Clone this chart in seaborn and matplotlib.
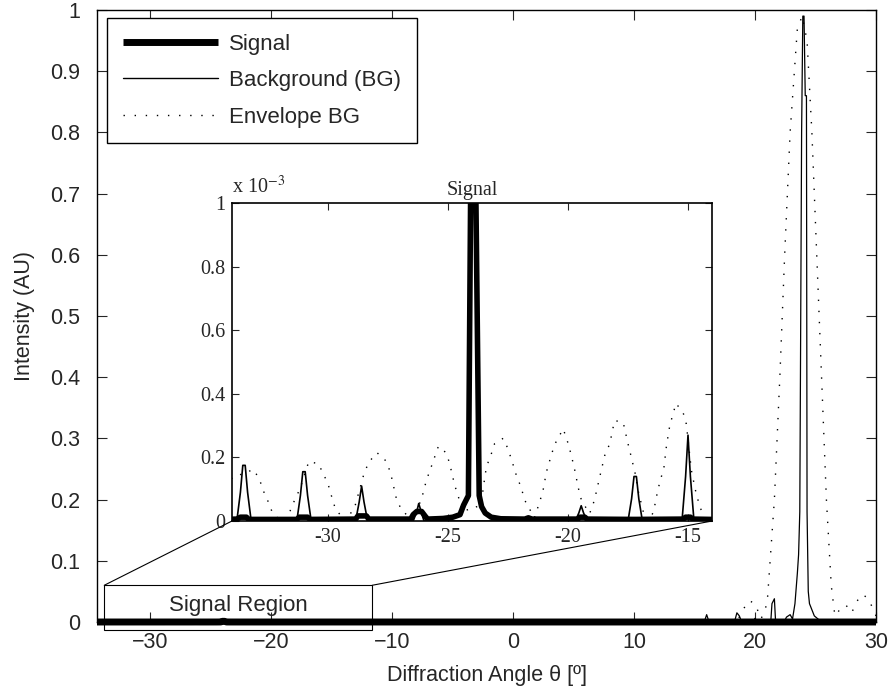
import matplotlib
matplotlib.use("Agg")
import matplotlib.pyplot as plt
import seaborn as sns
from matplotlib.patches import Rectangle, ConnectionPatch
from matplotlib.lines import Line2D

# ---- data (angle in degrees, intensity in AU) ----
signal_angle = [-34.4, -33.8, -33.65, -33.4, -33.3, -31.3, -31.2, -30.85, -30.75,
                -28.85, -28.75, -28.4, -28.3, -26.55, -26.45, -26.3, -26.1, -25.95,
                -25.85, -25.2, -24.8, -24.5, -24.35, -24.15, -24.05, -23.95, -23.85, -23.7,
                -23.6, -23.45, -23.2, -22.8, -21.8, -21.65, -21.5, -19.6, -19.5,
                -19.3, -19.2, -17.3, -17.15, -15.2, -15.1, -14.9, -14.8, -14.0,
                -10.0, 0.0, 10.0, 20.0, 24.0, 30.0]
signal_val = [0.005e-3, 0.006e-3, 0.012e-3, 0.012e-3, 0.005e-3, 0.005e-3, 0.012e-3, 0.012e-3, 0.005e-3,
              0.006e-3, 0.016e-3, 0.016e-3, 0.006e-3, 0.006e-3, 0.02e-3, 0.03e-3, 0.03e-3, 0.015e-3,
              0.006e-3, 0.008e-3, 0.012e-3, 0.02e-3, 0.05e-3, 0.08e-3, 1.1e-3, 1.1e-3, 1.1e-3, 0.08e-3,
              0.045e-3, 0.025e-3, 0.012e-3, 0.007e-3, 0.006e-3, 0.01e-3, 0.006e-3, 0.006e-3, 0.012e-3,
              0.012e-3, 0.006e-3, 0.005e-3, 0.005e-3, 0.006e-3, 0.012e-3, 0.012e-3, 0.006e-3, 0.005e-3,
              0.004e-3, 0.002e-3, 0.002e-3, 0.003e-3, 0.003e-3, 0.002e-3]

bg_angle = [-34.4, -33.8, -33.65, -33.55, -33.45, -33.35, -33.2,
            -31.3, -31.15, -31.05, -30.95, -30.85, -30.7,
            -28.85, -28.7, -28.6, -28.5, -28.35,
            -26.45, -26.3, -26.22, -26.12, -26.0,
            -19.7, -19.55, -19.45, -19.35, -19.2,
            -17.5, -17.35, -17.25, -17.15, -17.05, -16.9,
            -15.25, -15.1, -15.0, -14.9, -14.75,
            15.8, 16.0, 16.2, 18.3, 18.5, 18.7, 18.9, 19.8, 20.0, 20.2,
            21.3, 21.4, 21.6, 21.7, 22.4, 22.6, 22.9, 23.1, 23.3, 23.5, 23.6, 23.7,
            23.85, 23.95, 24.05, 24.15, 24.25, 24.3, 24.4, 24.5, 24.7, 24.9, 25.2, 25.5, 30.0]
bg_val = [0.0, 0.0, 0.09e-3, 0.175e-3, 0.175e-3, 0.09e-3, 0.0,
          0.0, 0.08e-3, 0.155e-3, 0.155e-3, 0.08e-3, 0.0,
          0.0, 0.06e-3, 0.11e-3, 0.06e-3, 0.0,
          0.0, 0.03e-3, 0.055e-3, 0.03e-3, 0.0,
          0.0, 0.025e-3, 0.048e-3, 0.025e-3, 0.0,
          0.0, 0.07e-3, 0.14e-3, 0.14e-3, 0.07e-3, 0.0,
          0.0, 0.14e-3, 0.27e-3, 0.14e-3, 0.0,
          0.0, 0.012, 0.0, 0.0, 0.015, 0.01, 0.0, 0.0, 0.006, 0.0,
          0.0, 0.03, 0.038, 0.0, 0.0, 0.008, 0.012, 0.005, 0.03, 0.08, 0.11, 0.18,
          0.8, 0.99, 0.99, 0.86, 0.86, 0.18, 0.05, 0.03, 0.02, 0.01, 0.005, 0.0, 0.0]

env_angle = [-34.4, -33.75, -33.1, -32.85, -32.7, -32.5, -32.3, -31.95, -31.64, -31.46,
             -31.25, -31.1, -30.8, -30.4, -30.2, -30.0, -29.86, -29.7, -29.3, -28.9,
             -28.5, -28.3, -27.96, -27.6, -27.4, -27.3, -27.15, -26.97, -26.5, -26.1,
             -25.9, -25.7, -25.4, -25.07, -24.93, -24.72, -24.58, -24.4, -23.6, -23.54,
             -23.4, -23.2, -23.06, -22.7, -22.5, -22.3, -22.15, -21.96, -21.8, -21.4,
             -21.18, -21.04, -20.9, -20.7, -20.56, -20.2, -20.0, -19.86, -19.7, -19.58,
             -19.44, -19.1, -18.9, -18.68, -18.47, -18.26, -18.06, -17.7, -17.5, -17.36,
             -17.2, -17.08, -16.86, -16.65, -16.44, -16.25, -16.0, -15.9, -15.76, -15.5,
             -15.2, -15.07, -14.86, -14.7, -14.6, -14.45, -14.3,
             18.5, 19.0, 19.5, 20.0, 20.5, 21.0, 21.6, 22.05, 22.45, 22.9, 23.5, 23.9,
             24.3, 24.7, 25.1, 25.5, 25.9, 26.3, 26.6, 27.0, 27.5, 28.0, 28.3, 28.8,
             29.3, 29.8, 30.0]
env_val = [0.12e-3, 0.143e-3, 0.162e-3, 0.13e-3, 0.096e-3, 0.062e-3, 0.023e-3, 0.0, 0.02e-3, 0.054e-3,
           0.088e-3, 0.117e-3, 0.187e-3, 0.18e-3, 0.149e-3, 0.117e-3, 0.08e-3, 0.04e-3, 0.0, 0.04e-3,
           0.149e-3, 0.185e-3, 0.215e-3, 0.19e-3, 0.154e-3, 0.12e-3, 0.07e-3, 0.04e-3, 0.0, 0.07e-3,
           0.128e-3, 0.17e-3, 0.235e-3, 0.214e-3, 0.18e-3, 0.112e-3, 0.08e-3, 0.03e-3, 0.05e-3, 0.1e-3,
           0.17e-3, 0.21e-3, 0.243e-3, 0.26e-3, 0.227e-3, 0.18e-3, 0.143e-3, 0.107e-3, 0.065e-3, 0.01e-3,
           0.06e-3, 0.096e-3, 0.154e-3, 0.206e-3, 0.24e-3, 0.29e-3, 0.245e-3, 0.206e-3, 0.154e-3, 0.107e-3,
           0.065e-3, 0.023e-3, 0.065e-3, 0.138e-3, 0.206e-3, 0.243e-3, 0.316e-3, 0.31e-3, 0.243e-3, 0.2e-3,
           0.149e-3, 0.096e-3, 0.028e-3, 0.0, 0.028e-3, 0.1e-3, 0.17e-3, 0.235e-3, 0.3e-3, 0.37e-3,
           0.34e-3, 0.305e-3, 0.16e-3, 0.1e-3, 0.07e-3, 0.034e-3, 0.0,
           0.0, 0.02, 0.035, 0.03, 0.005, 0.03, 0.2, 0.4, 0.6, 0.8, 0.97, 0.99,
           0.95, 0.8, 0.6, 0.4, 0.2, 0.06, 0.01, 0.02, 0.028, 0.015, 0.03, 0.045,
           0.04, 0.02, 0.01]

main_yticks = [0, 0.1, 0.2, 0.3, 0.4, 0.5, 0.6, 0.7, 0.8, 0.9, 1]
main_ytick_labels = ["0", "0.1", "0.2", "0.3", "0.4", "0.5", "0.6", "0.7", "0.8", "0.9", "1"]
main_xticks = [-30, -20, -10, 0, 10, 20, 30]
inset_xticks = [-30, -25, -20, -15]
inset_xtick_labels = ["-30", "-25", "-20", "-15"]
inset_yticks = [0, 0.2, 0.4, 0.6, 0.8, 1]
inset_ytick_labels = ["0", "0.2", "0.4", "0.6", "0.8", "1"]

sns.set_style("ticks")
plt.rcParams["font.family"] = ["Liberation Sans", "DejaVu Sans"]
plt.rcParams["mathtext.fontset"] = "stix"
plt.rcParams["xtick.direction"] = "in"
plt.rcParams["ytick.direction"] = "in"

fig = plt.figure(figsize=(8.93, 6.93), dpi=100)
ax = fig.add_axes([97 / 893, 1 - 622 / 693, 779 / 893, 612 / 693])

sns.lineplot(x=env_angle, y=env_val, ax=ax, color="black", linewidth=1.0,
             linestyle=(0, (1, 7)), estimator=None, sort=False)
sns.lineplot(x=bg_angle, y=bg_val, ax=ax, color="black", linewidth=0.9,
             estimator=None, sort=False)
sns.lineplot(x=signal_angle, y=signal_val, ax=ax, color="black", linewidth=5,
             estimator=None, sort=False, clip_on=False, solid_capstyle="butt")

ax.set_xlim(-34.4, 30)
ax.set_ylim(0, 1)
ax.set_xticks(main_xticks)
ax.set_yticks(main_yticks)
ax.set_yticklabels(main_ytick_labels)
ax.tick_params(labelsize=15.5, length=7, width=0.8, top=True, right=True)
ax.tick_params(axis="y", pad=12)
ax.tick_params(axis="x", pad=7)
for s in ax.spines.values():
    s.set_linewidth(1.0)
    s.set_color("black")
ax.set_xlabel("Diffraction Angle θ [º]", fontsize=15.5, labelpad=9)
ax.set_ylabel("Intensity (AU)", fontsize=15.5, labelpad=11)

handles = [Line2D([], [], color="black", lw=5, solid_capstyle="butt"),
           Line2D([], [], color="black", lw=1),
           Line2D([], [], color="black", lw=1, linestyle=(0, (1, 7)))]
leg = ax.legend(handles, ["Signal", "Background (BG)", "Envelope BG"],
                loc="upper left", bbox_to_anchor=(10 / 779, (622 - 18) / 612),
                borderaxespad=0, fontsize=16,
                handlelength=4.3, handletextpad=0.5, labelspacing=0.7,
                borderpad=0.7, fancybox=False, framealpha=1, edgecolor="black")
leg.get_frame().set_linewidth(1.0)

# signal region box
box = Rectangle((-33.8, -0.013), 22.15, 0.073, fill=False, edgecolor="black",
                linewidth=0.8, clip_on=False)
ax.add_patch(box)
ax.text(-22.7, 0.027, "Signal Region", fontsize=16, ha="center", va="center")

# inset
axin = fig.add_axes([232 / 893, 1 - 521 / 693, 480 / 893, 318 / 693])
sc = 1e3
sns.lineplot(x=env_angle, y=[v * sc for v in env_val], ax=axin, color="black",
             linewidth=1.0, linestyle=(0, (1, 6)), estimator=None, sort=False)
sns.lineplot(x=bg_angle, y=[v * sc for v in bg_val], ax=axin, color="black",
             linewidth=1.2, estimator=None, sort=False)
sns.lineplot(x=signal_angle, y=[v * sc for v in signal_val], ax=axin, color="black",
             linewidth=4, estimator=None, sort=False)
axin.set_xlim(-34, -14)
axin.set_ylim(0, 1)
axin.set_xticks(inset_xticks)
axin.set_xticklabels(inset_xtick_labels)
axin.set_yticks(inset_yticks)
axin.set_yticklabels(inset_ytick_labels)
axin.tick_params(labelsize=14.5, length=5, width=0.8, top=True, right=True, pad=5)
for lab in axin.get_xticklabels() + axin.get_yticklabels():
    lab.set_family(["Liberation Serif", "DejaVu Serif"])
for s in axin.spines.values():
    s.set_linewidth(1.2)
    s.set_color("black")
axin.set_xlabel("")
axin.set_ylabel("")
axin.set_title("Signal", fontsize=14.5, family=["Liberation Serif"], pad=6)
axin.text(0.0, 1.015, "x 10$^{-3}$", transform=axin.transAxes, fontsize=14.5,
          family=["Liberation Serif"], ha="left", va="bottom")

for xa, xb in [(-33.8, 0.0), (-11.65, 1.0)]:
    con = ConnectionPatch(xyA=(xa, 0.06), coordsA=ax.transData,
                          xyB=(xb, 0.0), coordsB=axin.transAxes,
                          color="black", linewidth=0.8)
    fig.add_artist(con)

fig.savefig("out.png", dpi=100)
